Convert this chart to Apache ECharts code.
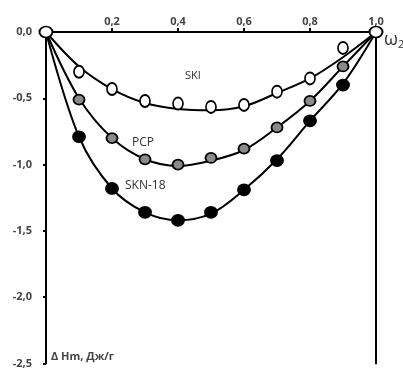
<!DOCTYPE html>
<html><head><meta charset="utf-8">
<script src="https://cdn.jsdelivr.net/npm/echarts@6/dist/echarts.min.js"></script>
<style>html,body{margin:0;padding:0;background:#fff}#c{width:403px;height:369px}</style>
</head><body><div id="c"></div>
<script>
// fitted curves
var curveSKI = [[0,0],[0.1,-0.26],[0.2,-0.43],[0.3,-0.535],[0.4,-0.58],[0.5,-0.59],[0.6,-0.56],[0.7,-0.46],[0.8,-0.35],[0.9,-0.19],[1,0]];
var curvePCP = [[0,0],[0.1,-0.5],[0.2,-0.8],[0.3,-0.96],[0.4,-1.01],[0.5,-0.97],[0.6,-0.89],[0.7,-0.72],[0.8,-0.52],[0.9,-0.26],[1,0]];
var curveSKN = [[0,0],[0.1,-0.79],[0.2,-1.18],[0.3,-1.36],[0.4,-1.42],[0.5,-1.37],[0.6,-1.19],[0.7,-0.96],[0.8,-0.67],[0.9,-0.39],[1,0]];
// measured points
var ptsSKI = [[0.1,-0.30],[0.2,-0.43],[0.3,-0.52],[0.4,-0.54],[0.5,-0.565],[0.6,-0.55],[0.7,-0.45],[0.8,-0.35],[0.9,-0.12]];
var ptsPCP = [[0.1,-0.51],[0.2,-0.80],[0.3,-0.96],[0.4,-1.0],[0.5,-0.95],[0.6,-0.88],[0.7,-0.72],[0.8,-0.52],[0.9,-0.26]];
var ptsSKN = [[0.1,-0.79],[0.2,-1.18],[0.3,-1.36],[0.4,-1.42],[0.5,-1.36],[0.6,-1.19],[0.7,-0.97],[0.8,-0.67],[0.9,-0.40]];
var endPts = [[0,0],[1,0]];
var xTicks = [0.2,0.4,0.6,0.8,1.0];
var yTicks = [0,-0.5,-1,-1.5,-2,-2.5];

var chart = echarts.init(document.getElementById('c'));
var font = '"Open Sans", sans-serif';
function fmt(v){ return Number(v).toFixed(1).replace('.', ','); }
function line(d){ return {type:'line', data:d, smooth:0.35, showSymbol:false, silent:true,
  lineStyle:{color:'#000', width:2}, z:2}; }
function pts(d, fill, size){ return {type:'scatter', data:d, symbol:'circle', symbolSize:size,
  itemStyle:{color:fill, borderColor:'#000', borderWidth:1.8, opacity:1}, z:3}; }
chart.setOption({
  animation:false,
  grid:{left:46, right:27, top:32, bottom:2},
  xAxis:{type:'value', position:'top', min:0, max:1, interval:0.2,
    axisLine:{onZero:false, lineStyle:{color:'#000', width:2}},
    axisTick:{show:true, length:4, lineStyle:{color:'#000', width:2}},
    splitLine:{show:false},
    axisLabel:{margin:5, color:'#444', fontFamily:font, fontWeight:'bold', fontSize:11,
      formatter:function(v){ return xTicks.indexOf(Math.round(v*10)/10) >= 0 ? fmt(v) : ''; }}},
  yAxis:[{type:'value', min:-2.5, max:0, interval:0.5,
    axisLine:{onZero:false, lineStyle:{color:'#000', width:2}},
    axisTick:{show:true, length:3, lineStyle:{color:'#000', width:2}},
    splitLine:{show:false},
    axisLabel:{margin:14, color:'#444', fontFamily:font, fontWeight:'bold', fontSize:11,
      formatter:function(v){ return yTicks.indexOf(Math.round(v*10)/10) >= 0 ? fmt(v) : ''; }}},
    {type:'value', position:'right', min:-2.5, max:0,
    axisLine:{show:true, onZero:false, lineStyle:{color:'#000', width:2}},
    axisTick:{show:false}, axisLabel:{show:false}, splitLine:{show:false}}],
  series:[
    line(curveSKI), line(curvePCP), line(curveSKN),
    pts(ptsSKI, '#fff', [10,12]),
    pts(ptsPCP, '#8a8a8a', [11,10]),
    pts(ptsSKN, '#000', [12,11]),
    pts(endPts, '#fff', [13,11])
  ],
  graphic:[
    {type:'text', left:185, top:70, style:{text:'SKI', font:'11px '+font, fill:'#333'}},
    {type:'text', left:132, top:137, style:{text:'PCP', font:'12px '+font, fill:'#333'}},
    {type:'text', left:125, top:180, style:{text:'SKN-18', font:'12px '+font, fill:'#333'}},
    {type:'text', left:51, top:351, style:{text:'Δ Hm, Дж/г', font:'bold 11px '+font, fill:'#444'}},
    {type:'text', left:384, top:31, style:{rich:{w:{fontSize:18, fontFamily:font, fill:'#333'}, s:{fontSize:11, fontFamily:font, fill:'#333', padding:[9,0,0,0]}}, text:'{w|ω}{s|2}'}}
  ]
});
</script></body></html>
